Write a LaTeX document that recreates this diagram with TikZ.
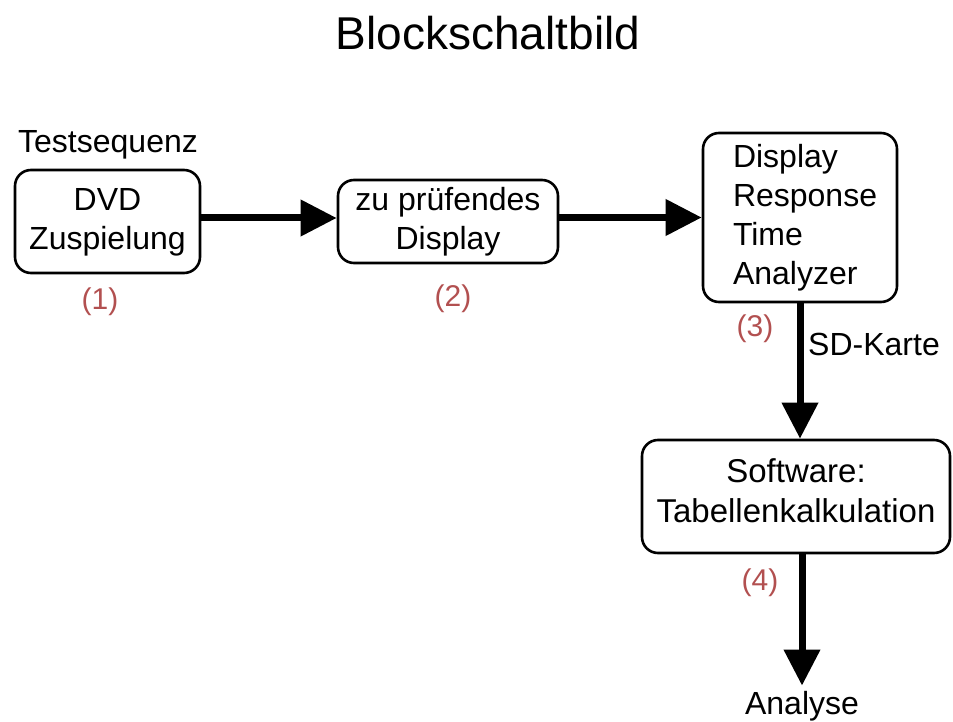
\documentclass[tikz,border=0pt]{standalone}
\usepackage{fontspec}
\setmainfont{Liberation Sans}
\usetikzlibrary{arrows.meta}
\definecolor{numred}{RGB}{178,80,80}
\begin{document}
\begin{tikzpicture}[x=1pt,y=-1pt,
  box/.style={draw, line width=2.6pt, rounded corners=16pt, inner sep=2pt, font=\fontsize{32}{39}\selectfont},
  txt/.style={inner sep=0pt, font=\fontsize{32}{39}\selectfont},
  num/.style={inner sep=0pt, text=numred, font=\fontsize{30}{36}\selectfont},
  flow/.style={line width=7pt, -{Triangle[length=36pt,width=35pt]}}]
\useasboundingbox (0,0) rectangle (953,722);
\node[inner sep=0pt, anchor=base, font=\fontsize{46}{55}\selectfont] (title) at (488,50) {Blockschaltbild};

\node[txt, anchor=base] (ts) at (108,153) {Testsequenz};
\node[box, align=center, minimum width=185pt, minimum height=103pt, text depth=6pt] (b1) at (107.5,221.5) {DVD\\Zuspielung};
\node[box, align=center, minimum width=220pt, minimum height=83pt] (b2) at (448,221.5) {zu prüfendes\\Display};
\node[box, align=left, text width=134pt, minimum width=194pt, minimum height=169pt] (b3) at (800,217.5) {Display\\Response\\Time\\Analyzer};
\node[box, align=center, minimum width=308pt, minimum height=113pt, text depth=12pt, font=\fontsize{33}{40}\selectfont] (b4) at (796,496.5) {Software:\\Tabellenkalkulation};

\node[num] (n1) at (100,301.5) {(1)};
\node[num] (n2) at (453,299) {(2)};
\node[num] (n3) at (755,329) {(3)};
\node[num] (n4) at (760,583) {(4)};

\node[txt, anchor=base west] (sd) at (808,355) {SD-Karte};
\node[inner sep=2pt, anchor=base, font=\fontsize{32}{39}\selectfont] (an) at (802,714) {Analyse};

\draw[flow] ([yshift=3.5pt]b1.east) -- ([yshift=3.5pt]b2.west);
\draw[flow] (b2.east |- b3.west) -- (b3.west);
\draw[flow] (b3.south) -- (b3.south |- b4.north);
\draw[flow] (b4.south -| an.north) -- ([yshift=3pt]an.north);
\end{tikzpicture}
\end{document}
